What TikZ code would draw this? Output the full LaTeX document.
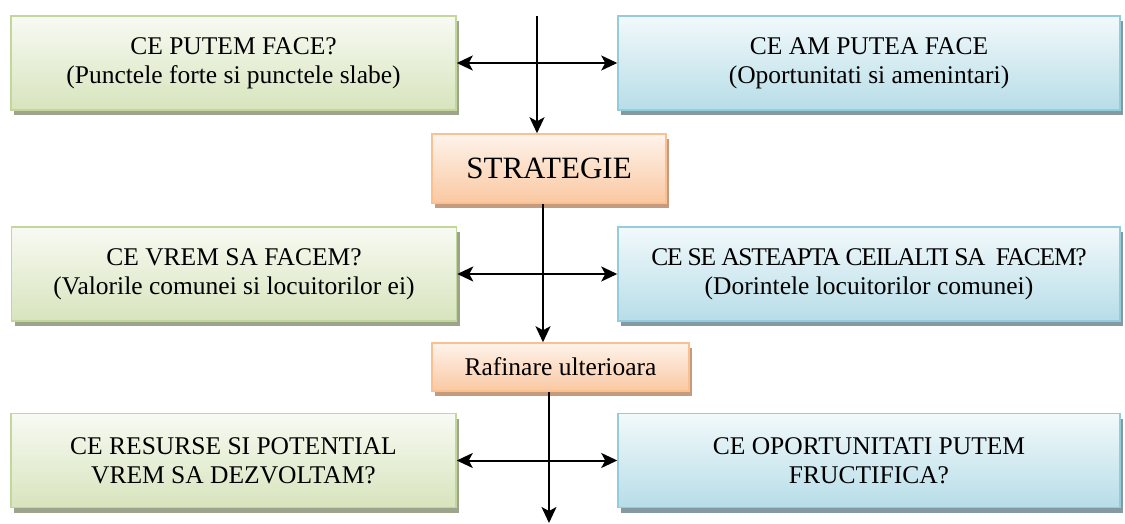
\documentclass[tikz,border=0pt]{standalone}
\usepackage{fontspec}
\setmainfont{Liberation Serif}
\usetikzlibrary{arrows.meta,shadows,positioning}

\definecolor{grntop}{HTML}{F8FAF3}
\definecolor{grnfill}{HTML}{D7E4BD}
\definecolor{grnline}{HTML}{C3D69B}
\definecolor{grnshade}{HTML}{9DA48C}
\definecolor{blutop}{HTML}{F2F9FB}
\definecolor{blufill}{HTML}{B7DDE8}
\definecolor{bluline}{HTML}{93CDDD}
\definecolor{blushade}{HTML}{8499A1}
\definecolor{orgtop}{HTML}{FEF3EB}
\definecolor{orgfill}{HTML}{FAC8A2}
\definecolor{orgline}{HTML}{FAC090}
\definecolor{orgshade}{HTML}{C49B7D}

\begin{document}
\begin{tikzpicture}[x=1pt,y=-1pt,
  box/.style={line width=1.5pt,align=center,inner sep=0pt,
    font=\fontsize{25.5}{29}\selectfont},
  grnbox/.style={box,draw=grnline,top color=grntop,bottom color=grnfill,
    minimum width=445pt,minimum height=94pt,
    drop shadow={shadow xshift=3pt,shadow yshift=-5pt,fill=grnshade,opacity=1}},
  blubox/.style={box,draw=bluline,top color=blutop,bottom color=blufill,
    minimum width=502pt,minimum height=94pt,
    drop shadow={shadow xshift=3pt,shadow yshift=-5pt,fill=blushade,opacity=1}},
  orgbox/.style={box,draw=orgline,top color=orgtop,bottom color=orgfill,
    drop shadow={shadow xshift=3pt,shadow yshift=-5pt,fill=orgshade,opacity=1}},
  tip/.style={Stealth[length=16pt,width=15pt,inset=4pt]},
  arr/.style={line width=2pt,-{Stealth[length=16pt,width=15pt,inset=4pt]}},
  biarr/.style={line width=2pt,{Stealth[length=16pt,width=15pt,inset=4pt]}-{Stealth[length=16pt,width=15pt,inset=4pt]}}]
  \useasboundingbox (0,0) rectangle (1125,524);

  \node[grnbox] (can) at (233.5,63) {CE PUTEM FACE?\\(Punctele forte si punctele slabe)};   % what we can do
  \node[blubox] (could) at (869,63) {CE AM PUTEA FACE\\(Oportunitati si amenintari)};       % what we could do
  \node[orgbox,minimum width=234pt,minimum height=69pt,
        font=\fontsize{31}{35}\selectfont] (strat) at (549,168.5) {STRATEGIE};

  \node[grnbox] (want) at (234,274) {CE VREM SA FACEM?\\(Valorile comunei si locuitorilor ei)};
  \node[blubox] (expect) at (869,274)
    {{\addfontfeature{LetterSpace=-5}CE SE ASTEAPTA CEILALTI SA\ \ FACEM?}\\(Dorintele locuitorilor comunei)};
  \node[orgbox,minimum width=257pt,minimum height=48pt] (raf) at (560.5,367) {Rafinare ulterioara};

  \node[grnbox] (grow) at (233.5,460.5) {CE RESURSE SI POTENTIAL\\VREM SA DEZVOLTAM?};
  \node[blubox] (use) at (869,460.5) {CE OPORTUNITATI PUTEM\\FRUCTIFICA?};

  \coordinate (in) at (537,16);   % top of main line
  \coordinate (out) at (549,523); % bottom of main line

  \draw[arr] (in) -- (in |- strat.north);
  \draw[arr] ([xshift=-6pt]strat.south) -- ([xshift=-6pt]strat.south |- raf.north);
  \draw[arr] ([xshift=-11.5pt]raf.south) -- (out);

  \draw[biarr] (can) -- (could);
  \draw[biarr] (want) -- (expect);
  \draw[biarr] (grow) -- (use);
\end{tikzpicture}
\end{document}
